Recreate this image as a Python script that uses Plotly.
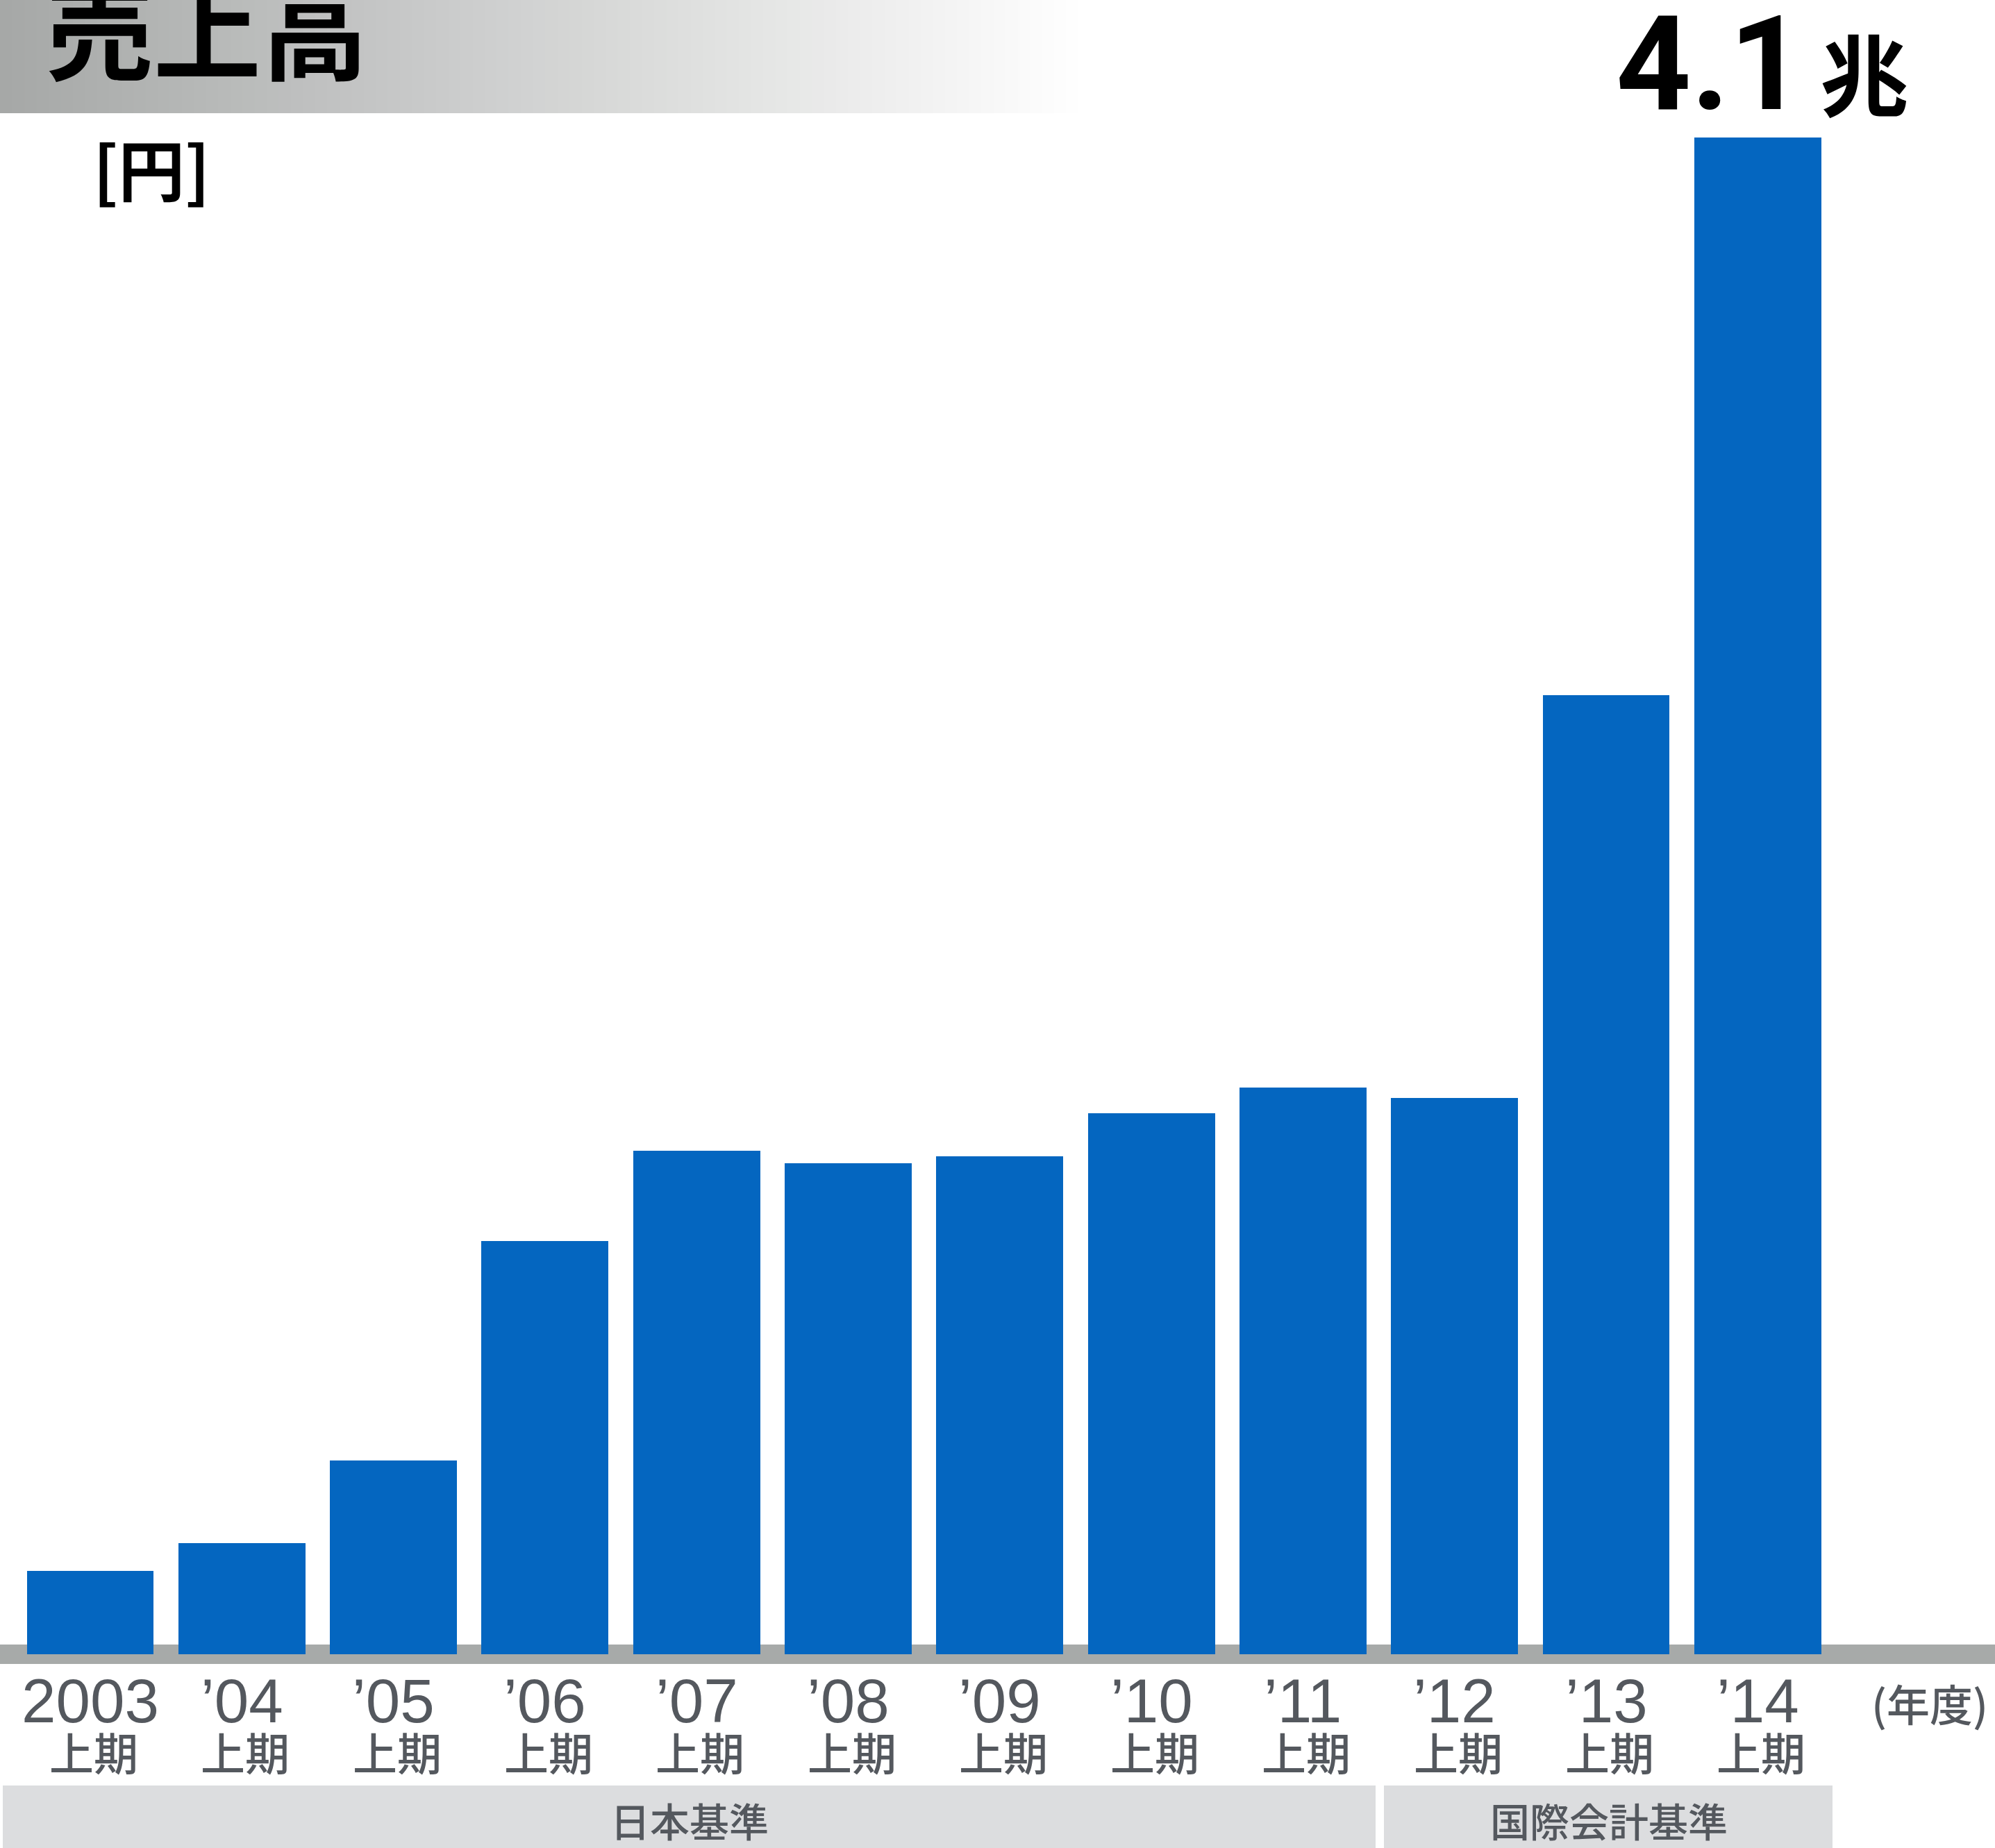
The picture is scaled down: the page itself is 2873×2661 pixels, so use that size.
import plotly.graph_objects as go

# ---- data ----
categories = ["2003", "’04", "’05", "’06", "’07", "’08", "’09", "’10", "’11", "’12", "’13", "’14"]
period_labels = ["上期"] * 12
sales_trillion_yen = [0.225, 0.300, 0.524, 1.117, 1.361, 1.327, 1.346, 1.462, 1.532, 1.504, 2.593, 4.100]
standard_groups = ["日本基準", "国際会計基準"]
title_text = "売上高"
unit_text = "[円]"
year_unit_text = "(年度)"
peak_value_text = "4.1"
peak_unit_text = "兆"

# ---- canvas geometry ----
W, H = 2873, 2661
BASE = 2382  # pixel row of the bar baseline
BAR_COLOR = "#0466C0"
TXT_GRAY = "#54585e"
CJK = "Noto Sans CJK JP"


def px(p):
    return p / W


def py(p):
    return (BASE - p) / BASE


pitch = 218.3
first_center = 130.0
x0 = -first_center / pitch
x1 = (W - first_center) / pitch
ymax = sales_trillion_yen[-1] * BASE / 2184.0

fig = go.Figure()
fig.add_trace(go.Bar(
    x=categories, y=sales_trillion_yen, width=0.838,
    marker=dict(color=BAR_COLOR, line=dict(width=0)),
    hoverinfo="skip",
))

shapes = []
# title gradient band
n = 90
band_w = 1570.0
c0 = (166, 168, 167)
for i in range(n):
    t = i / (n - 1)
    r = int(round(c0[0] + (255 - c0[0]) * t))
    g = int(round(c0[1] + (255 - c0[1]) * t))
    b = int(round(c0[2] + (255 - c0[2]) * t))
    shapes.append(dict(type="rect", xref="paper", yref="paper",
                       x0=px(band_w * i / n), x1=px(band_w * (i + 1) / n + 1),
                       y0=py(163), y1=py(-5), fillcolor=f"rgb({r},{g},{b})",
                       line=dict(width=0), layer="below"))
# baseline gray band
shapes.append(dict(type="rect", xref="paper", yref="paper",
                   x0=0, x1=1, y0=py(2396), y1=py(2368),
                   fillcolor="#a7aaa9", line=dict(width=0), layer="below"))
# accounting-standard bands
shapes.append(dict(type="rect", xref="paper", yref="paper",
                   x0=px(4), x1=px(1981), y0=py(2665), y1=py(2571),
                   fillcolor="#dcdddf", line=dict(width=0), layer="below"))
shapes.append(dict(type="rect", xref="paper", yref="paper",
                   x0=px(1993), x1=px(2639), y0=py(2665), y1=py(2571),
                   fillcolor="#dcdddf", line=dict(width=0), layer="below"))

annotations = []
# tick labels (year + 上期)
for i, (cat, per) in enumerate(zip(categories, period_labels)):
    annotations.append(dict(x=i, xref="x", y=py(2449), yref="paper",
                            text=cat, showarrow=False, xanchor="center", yanchor="middle",
                            font=dict(family="Liberation Sans", size=89, color=TXT_GRAY)))
    annotations.append(dict(x=i, xref="x", y=py(2521), yref="paper",
                            text=per, showarrow=False, xanchor="center", yanchor="middle",
                            xshift=5,
                            font=dict(family=CJK, size=64, color=TXT_GRAY, weight=500)))
annotations.append(dict(x=px(2779), xref="paper", y=py(2452), yref="paper",
                        text=year_unit_text, showarrow=False, xanchor="center", yanchor="middle",
                        font=dict(family=CJK, size=62, color=TXT_GRAY, weight=500)))
# group labels
annotations.append(dict(x=px(993), xref="paper", y=py(2620), yref="paper",
                        text=standard_groups[0], showarrow=False, xanchor="center", yanchor="middle",
                        font=dict(family=CJK, size=57, color=TXT_GRAY, weight=500)))
annotations.append(dict(x=px(2317), xref="paper", y=py(2620), yref="paper",
                        text=standard_groups[1], showarrow=False, xanchor="center", yanchor="middle",
                        font=dict(family=CJK, size=57, color=TXT_GRAY, weight=500)))
# title
annotations.append(dict(x=px(298), xref="paper", y=py(35), yref="paper",
                        text=title_text, showarrow=False, xanchor="center", yanchor="middle",
                        font=dict(family=CJK, size=155, color="#000000", weight="bold")))
# unit
annotations.append(dict(x=px(219), xref="paper", y=py(240), yref="paper",
                        text=unit_text, showarrow=False, xanchor="center", yanchor="middle",
                        font=dict(family=CJK, size=96, color="#000000", weight="bold")))
# peak label
annotations.append(dict(x=px(2463), xref="paper", y=py(92), yref="paper",
                        text=peak_value_text, showarrow=False, xanchor="center", yanchor="middle",
                        font=dict(family="Roboto", size=189, color="#000000", weight="bold")))
annotations.append(dict(x=px(2685), xref="paper", y=py(102), yref="paper",
                        text=peak_unit_text, showarrow=False, xanchor="center", yanchor="middle",
                        font=dict(family=CJK, size=128, color="#000000", weight="bold")))

fig.update_layout(
    width=W, height=H,
    margin=dict(l=0, r=0, t=0, b=H - BASE, pad=0),
    paper_bgcolor="#ffffff", plot_bgcolor="rgba(0,0,0,0)",
    showlegend=False,
    bargap=0,
    xaxis=dict(type="category", range=[x0, x1], showticklabels=False, showgrid=False,
               zeroline=False, showline=False, ticks="", fixedrange=True),
    yaxis=dict(range=[0, ymax], visible=False, showgrid=False, zeroline=False, fixedrange=True),
    shapes=shapes,
    annotations=annotations,
)

fig.write_html("out.html", config={"displayModeBar": False},
               post_script="document.body.style.margin='0';document.body.style.overflow='hidden';")
